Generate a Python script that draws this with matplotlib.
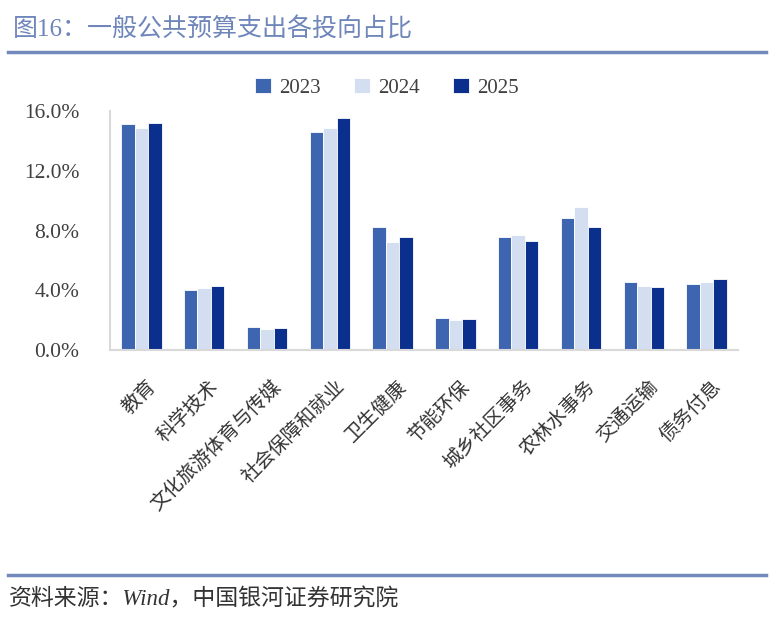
import numpy as np
import matplotlib
matplotlib.use('Agg')
import matplotlib.pyplot as plt
from matplotlib.lines import Line2D
import matplotlib.ticker as ticker
import matplotlib.transforms as mtransforms

plt.rcParams['font.family'] = ['Liberation Serif', 'Noto Sans CJK SC', 'DejaVu Sans']

categories = ['教育', '科学技术', '文化旅游体育与传媒', '社会保障和就业', '卫生健康',
              '节能环保', '城乡社区事务', '农林水事务', '交通运输', '债务付息']
years = ['2023', '2024', '2025']
v2023 = [15.11, 4.00, 1.52, 14.59, 8.21, 2.12, 7.54, 8.81, 4.53, 4.40]
v2024 = [14.86, 4.13, 1.41, 14.88, 7.23, 2.01, 7.70, 9.57, 4.31, 4.57]
v2025 = [15.17, 4.26, 1.45, 15.53, 7.54, 2.10, 7.27, 8.26, 4.24, 4.75]
colors = ['#3D65B0', '#D3DEF1', '#0A2F8C']

W, H = 774, 626
fig = plt.figure(figsize=(W / 100, H / 100), dpi=100)

# header / footer decorations
title_color = '#6F86BA'
fig.text(13 / W, 1 - 30 / H, '图16：一般公共预算支出各投向占比', fontsize=18,
         color=title_color, va='center', ha='left', fontweight='light')
fig.add_artist(Line2D([8 / W, 766 / W], [1 - 52 / H] * 2, color='#7289BC',
                      lw=2.5, transform=fig.transFigure))
fig.add_artist(Line2D([8 / W, 766 / W], [1 - 575 / H] * 2, color='#7289BC',
                      lw=2.5, transform=fig.transFigure))
fig.text(9 / W, 1 - 599 / H, '资料来源：Wind，中国银河证券研究院', fontsize=16.5,
         color='#333333', va='center', ha='left', style='italic', fontweight='light')

ax = fig.add_axes([110 / W, 1 - 350 / H, 628 / W, 239 / H])

x = np.arange(len(categories))
w = 0.215
for i, (vals, yr) in enumerate(zip([v2023, v2024, v2025], years)):
    ax.bar(x + (i - 1) * w, vals, w, color=colors[i], label=yr,
           edgecolor='white', linewidth=0.6)

ax.set_xlim(-0.5, len(categories) - 0.5)
ax.set_ylim(0, 16)
ax.yaxis.set_major_locator(ticker.MultipleLocator(4))
ax.yaxis.set_major_formatter(ticker.FormatStrFormatter('%.1f%%'))
ax.set_xticks(x)
ax.set_xticklabels(categories, rotation=45, ha='right', va='top',
                   rotation_mode='anchor', fontsize=14, color='#333333',
                   fontweight='light')
ax.tick_params(axis='y', length=0, labelsize=15.5, labelcolor='#404040', pad=22)
ax.tick_params(axis='x', length=0, pad=0)

offset = mtransforms.ScaledTranslation(5 / 100, -27 / 100, fig.dpi_scale_trans)
for lab in ax.get_xticklabels():
    lab.set_transform(lab.get_transform() + offset)

for side in ['top', 'right']:
    ax.spines[side].set_visible(False)
for side in ['left', 'bottom']:
    ax.spines[side].set_color('#D9D9D9')
    ax.spines[side].set_linewidth(1.5)

leg = fig.legend(loc='center', bbox_to_anchor=(0.5, 1 - 88 / H), ncol=3,
                 frameon=False, fontsize=15, handlelength=0.75, handleheight=0.75,
                 columnspacing=1.6, handletextpad=0.4)
for t in leg.get_texts():
    t.set_color('#404040')

fig.savefig('out.png', dpi=100)
